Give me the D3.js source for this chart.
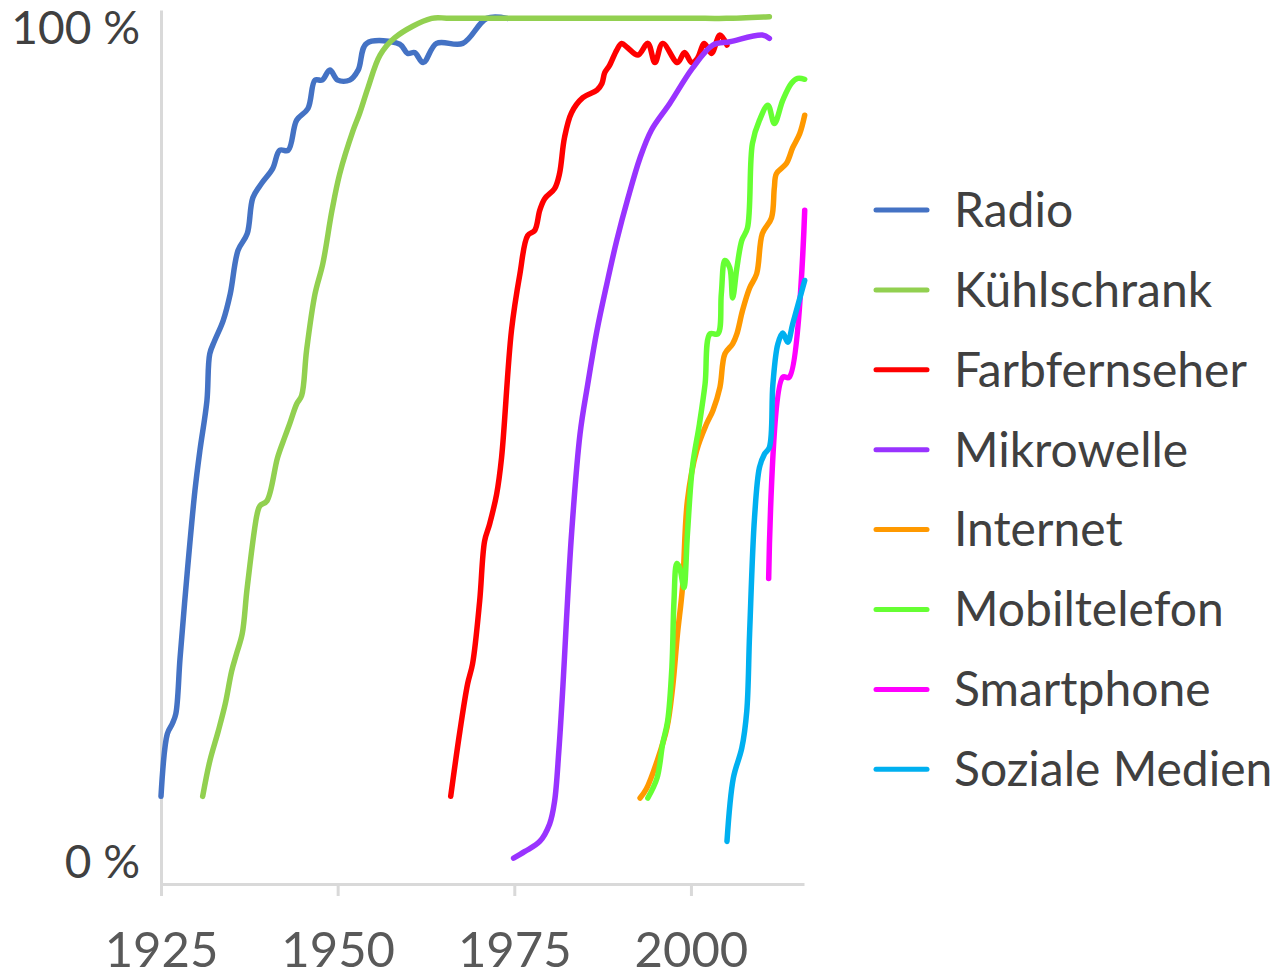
<!DOCTYPE html>
<html>
<head>
<meta charset="utf-8">
<script src="https://cdn.jsdelivr.net/npm/d3@7"></script>
<style>
  html, body { margin: 0; padding: 0; background: #fff; }
  svg { display: block; font-family: Lato, sans-serif; }
</style>
</head>
<body>
<svg id="chart" width="1276" height="975"></svg>
<script>
// share of households, in percent, [year, value]
var radio = [[1925,8.0],[1925.9,15.5],[1926.6,16.7],[1927.1,17.9],[1927.7,24.6],[1928.7,34.7],[1929.8,44.6],[1930.5,49.4],
  [1931.5,55.4],[1931.9,61.0],[1932.6,62.6],[1933.8,65.0],[1934.8,68.2],[1935.9,73.4],[1937.2,75.4],[1938.0,79.7],[1939.3,81.5],
  [1940.8,83.2],[1941.8,85.4],[1943.0,85.4],[1944.2,89.0],[1945.8,90.4],[1946.8,93.8],[1947.8,93.8],[1948.9,95.0],[1950.0,93.8],
  [1951.7,93.8],[1952.9,95.0],[1954.1,98.2],[1958.8,98.1],[1959.9,97.0],[1960.9,97.1],[1962.1,95.9],[1964.0,98.2],[1967.7,98.2],
  [1971.1,101.2],[1974.0,101.2]];
var kuehlschrank = [[1930.9,8.0],[1931.9,12.2],[1933.1,15.8],[1934.1,19.1],[1935.0,23.0],[1935.7,25.1],[1936.5,27.5],[1937.2,33.0],
  [1938.6,41.8],[1939.0,42.8],[1940.0,43.4],[1941.5,48.6],[1942.5,51.0],[1943.2,52.6],[1944.2,55.0],[1944.9,56.0],[1945.6,61.4],
  [1946.8,68.2],[1947.9,71.8],[1949.2,78.2],[1950.3,82.6],[1952.2,87.8],[1953.1,89.8],[1954.3,92.9],[1956.0,96.8],[1958.1,98.9],
  [1963.3,101.2],[1966.0,101.2],[2002.0,101.2],[2005.0,101.2],[2011.1,101.4]];
var farbfernseher = [[1966.0,8.0],[1967.3,15.8],[1968.4,21.5],[1969.1,23.9],[1970.1,31.4],[1970.8,38.6],[1971.5,40.6],[1972.5,44.2],
  [1973.2,48.6],[1974.6,63.8],[1975.8,70.6],[1976.9,75.2],[1977.9,75.8],[1978.6,78.2],[1979.3,79.6],[1980.7,80.8],[1981.4,82.6],
  [1982.1,86.9],[1983.1,89.9],[1984.7,91.7],[1986.7,92.6],[1987.4,93.4],[1987.8,94.7],[1988.5,95.6],[1989.5,97.4],[1990.2,98.2],
  [1991.0,97.7],[1992.5,96.8],[1993.9,98.2],[1994.9,95.9],[1996.0,98.2],[1998.1,95.9],[1999.1,97.1],[2000.1,95.9],[2000.9,96.4],
  [2001.9,98.2],[2002.9,97.0],[2004.1,99.2],[2005.1,98.0]];
var mikrowelle = [[1974.9,0.6],[1976.5,1.4],[1978.6,2.6],[1980.0,4.7],[1980.7,7.4],[1981.3,13.4],[1981.9,21.5],[1982.4,29.4],
  [1983.1,39.4],[1984.3,51.4],[1985.4,57.4],[1986.7,63.8],[1988.1,69.4],[1989.5,74.6],[1991.1,79.7],[1992.8,84.5],[1994.4,87.8],
  [1997.0,91.0],[2000.2,95.2],[2003.1,98.0],[2005.5,98.4],[2010.1,99.2],[2011.1,98.8]];
var internet = [[1992.8,7.8],[1993.7,8.9],[1995.2,12.2],[1996.6,16.2],[1997.4,21.0],[1998.1,27.5],[1998.8,33.0],[1999.5,43.4],
  [2000.8,49.4],[2002.2,52.6],[2003.1,54.2],[2004.1,57.0],[2004.8,61.0],[2005.9,62.2],[2006.5,63.4],[2007.3,66.2],[2008.3,68.9],
  [2009.3,70.6],[2010.1,75.4],[2011.4,77.3],[2011.8,80.9],[2012.1,82.6],[2013.5,83.8],[2014.4,85.7],[2015.4,87.4],[2016.1,89.6]];
var mobiltelefon = [[1993.9,7.8],[1995.2,10.2],[1996.0,14.3],[1996.7,17.0],[1997.3,23.4],[1997.6,31.4],[1998.0,35.9],[1998.4,35.4],
  [1999.0,33.0],[1999.5,39.4],[2000.2,47.4],[2001.2,52.6],[2002.0,57.4],[2002.7,63.4],[2003.8,63.4],[2004.3,68.2],[2004.8,72.2],
  [2005.5,71.3],[2005.9,67.7],[2006.5,71.3],[2007.2,74.6],[2008.0,76.1],[2008.7,86.2],[2009.7,89.0],[2010.9,90.8],[2011.8,88.6],
  [2013.0,91.4],[2014.2,93.4],[2015.1,94.0],[2016.1,93.9]];
var smartphone = [[2011.0,34.1],[2013.0,58.2],[2013.9,58.2],[2016.1,78.2]];
var sozialeMedien = [[2005.1,2.6],[2006.0,10.2],[2007.2,13.8],[2007.9,18.2],[2008.3,27.5],[2009.0,41.4],[2009.7,47.4],[2010.4,49.0],
  [2011.1,49.8],[2011.6,57.4],[2012.3,62.2],[2013.0,63.5],[2013.7,62.4],[2014.4,64.6],[2016.1,69.8]];

var seriesNames = ['Radio', 'Kühlschrank', 'Farbfernseher', 'Mikrowelle', 'Internet', 'Mobiltelefon', 'Smartphone', 'Soziale Medien'];
var seriesData = [radio, kuehlschrank, farbfernseher, mikrowelle, internet, mobiltelefon, smartphone, sozialeMedien];
var seriesColors = ['#4472c4', '#92d050', '#ff0000', '#9933ff', '#ff9900', '#66ff33', '#ff00ff', '#00b0f0'];

var xTicks = [1925, 1950, 1975, 2000];
var yTicks = [0, 100];

var svg = d3.select('#chart');

var x = d3.scaleLinear().domain([1925, 2016]).range([161, 804]);
var y = d3.scaleLinear().domain([-2.5, 102.2]).range([884, 10]);

// axes
var xAxis = svg.append('g')
  .attr('transform', 'translate(0,' + y(-2.5) + ')')
  .call(d3.axisBottom(x).tickValues(xTicks).tickSize(12).tickSizeOuter(0).tickPadding(36).tickFormat(d3.format('d')));
xAxis.select('.domain').attr('stroke', '#d9d9d9').attr('stroke-width', 3);
xAxis.selectAll('.tick line').attr('stroke', '#d9d9d9').attr('stroke-width', 3);
xAxis.selectAll('.tick text').attr('fill', '#595959').attr('font-size', 49).attr('font-family', 'Lato');

var yAxis = svg.append('g')
  .attr('transform', 'translate(' + x(1925) + ',0)')
  .call(d3.axisLeft(y).tickValues(yTicks).tickSize(0).tickPadding(21).tickFormat(function(d) { return d + ' %'; }));
yAxis.select('.domain').attr('stroke', '#d9d9d9').attr('stroke-width', 3);
yAxis.selectAll('.tick text').attr('fill', '#404040').attr('font-size', 46).attr('font-family', 'Lato');

// lines
var line = d3.line()
  .x(function(d) { return x(d[0]); })
  .y(function(d) { return y(d[1]); })
  .curve(d3.curveCatmullRom.alpha(0.5));

svg.append('g').selectAll('path')
  .data(seriesData)
  .join('path')
  .attr('d', line)
  .attr('fill', 'none')
  .attr('stroke', function(d, i) { return seriesColors[i]; })
  .attr('stroke-width', 5.5)
  .attr('stroke-linecap', 'round')
  .attr('stroke-linejoin', 'round');

// legend
var legend = svg.append('g').selectAll('g')
  .data(seriesNames)
  .join('g')
  .attr('transform', function(d, i) { return 'translate(876,' + (210 + i * 79.9) + ')'; });
legend.append('line')
  .attr('x1', 0).attr('x2', 51)
  .attr('stroke', function(d, i) { return seriesColors[i]; })
  .attr('stroke-width', 5)
  .attr('stroke-linecap', 'round');
legend.append('text')
  .attr('x', 78)
  .attr('dy', '0.35em')
  .attr('fill', '#404040')
  .attr('font-size', 48)
  .text(function(d) { return d; });
</script>
</body>
</html>
